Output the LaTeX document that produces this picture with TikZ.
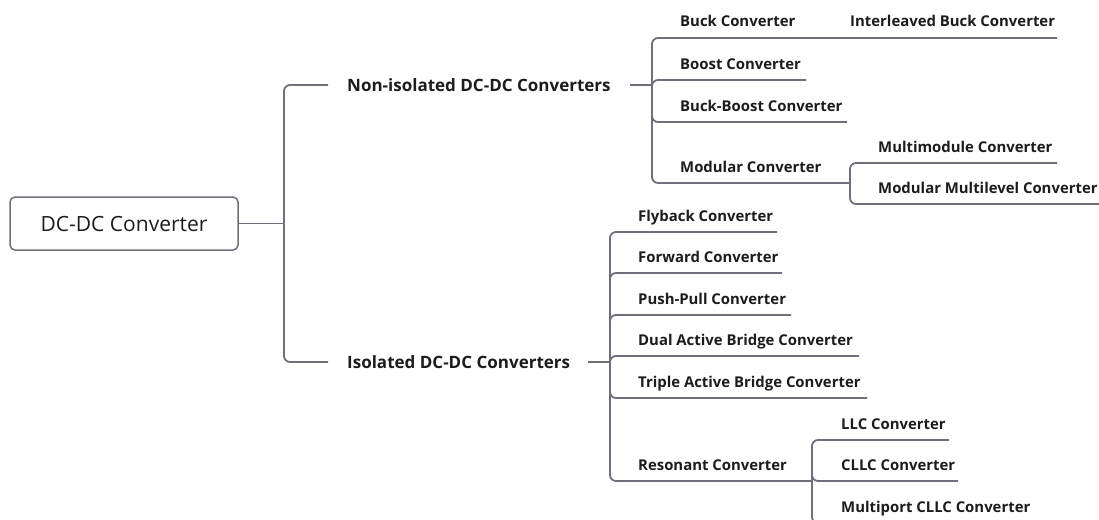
\documentclass[tikz,border=0pt]{standalone}
\usepackage{fontspec}
\setmainfont{Open Sans}
\usetikzlibrary{positioning}
\definecolor{linegray}{RGB}{112,112,122}
\definecolor{txtdark}{RGB}{28,28,28}
\tikzset{rootbox/.style={draw=linegray,line width=1.5pt,rounded corners=5pt,minimum width=228pt,minimum height=53pt,font=\fontsize{21}{25}\selectfont,text=txtdark}}
\tikzset{topic/.style={anchor=base west,inner sep=0pt,font=\bfseries\fontsize{17}{20}\selectfont,text=txtdark}}
\tikzset{subtopic/.style={anchor=base west,inner sep=0pt,font=\bfseries\fontsize{14.9}{17}\selectfont,text=txtdark}}
\tikzset{link/.style={draw=linegray,line width=1.8pt,rounded corners=6pt}}

\begin{document}
\begin{tikzpicture}[x=1pt,y=-1pt]
    \useasboundingbox (0,0) rectangle (1099,519);
    \clip (0,0) rectangle (1099,519);

    \node[rootbox] (dcdc) at (124,223.5) {DC-DC Converter};
    \node[topic] (noniso) at (347,91) {Non-isolated DC-DC Converters};
    \node[topic] (iso) at (347,368) {Isolated DC-DC Converters};

    \node[subtopic] (buck) at (680,27) {Buck Converter};
    \node[subtopic] (ilbuck) at (850,27) {Interleaved Buck Converter};
    \node[subtopic] (boost) at (680,69) {Boost Converter};
    \node[subtopic] (buckboost) at (680,111) {Buck-Boost Converter};
    \node[subtopic] (modular) at (680,172) {Modular Converter};
    \node[subtopic] (multimod) at (878,152) {Multimodule Converter};
    \node[subtopic] (mmc) at (878,193) {Modular Multilevel Converter};

    \node[subtopic] (flyback) at (638,221) {Flyback Converter};
    \node[subtopic] (forward) at (638,262) {Forward Converter};
    \node[subtopic] (pushpull) at (638,304) {Push-Pull Converter};
    \node[subtopic] (dab) at (638,345) {Dual Active Bridge Converter};
    \node[subtopic] (tab) at (638,387) {Triple Active Bridge Converter};
    \node[subtopic] (resonant) at (638,470) {Resonant Converter};
    \node[subtopic] (llc) at (841,429) {LLC Converter};
    \node[subtopic] (cllc) at (841,470) {CLLC Converter};
    \node[subtopic] (mpcllc) at (841,512) {Multiport CLLC Converter};

    \coordinate (rootfork) at (284,223.5);
    \coordinate (noniso-in) at (328,85);
    \coordinate (iso-in) at (328,362);
    \coordinate (noniso-out) at (630,85);
    \coordinate (nonisofork) at (652,85);
    \coordinate (iso-out) at (588,362);
    \coordinate (isofork) at (610,362);

    \coordinate (buck-e) at (830,38);
    \coordinate (ilbuck-e) at (1057,38);
    \coordinate (boost-e) at (806,80);
    \coordinate (buckboost-e) at (847,122);
    \coordinate (modfork) at (850,183);
    \coordinate (multimod-e) at (1057,163);
    \coordinate (mmc-e) at (1110,204);

    \coordinate (flyback-e) at (777,232);
    \coordinate (forward-e) at (782,273);
    \coordinate (pushpull-e) at (791,315);
    \coordinate (dab-e) at (859,356);
    \coordinate (tab-e) at (867,398);
    \coordinate (resfork) at (812,481);
    \coordinate (llc-e) at (949,440);
    \coordinate (cllc-e) at (958,481);
    \coordinate (mpcllc-e) at (1040,523);

    \draw[link] (dcdc.east) -- (rootfork);
    \draw[link] (rootfork) |- (noniso-in);
    \draw[link] (rootfork) |- (iso-in);

    \draw[link] (noniso-out) -- (nonisofork);
    \draw[link] (nonisofork) |- (buck-e) -- (ilbuck-e);
    \draw[link] (nonisofork) |- (boost-e);
    \draw[link] (nonisofork) |- (buckboost-e);
    \draw[link] (nonisofork) |- (modfork);
    \draw[link] (modfork) |- (multimod-e);
    \draw[link] (modfork) |- (mmc-e);

    \draw[link] (iso-out) -- (isofork);
    \draw[link] (isofork) |- (flyback-e);
    \draw[link] (isofork) |- (forward-e);
    \draw[link] (isofork) |- (pushpull-e);
    \draw[link] (isofork) |- (dab-e);
    \draw[link] (isofork) |- (tab-e);
    \draw[link] (isofork) |- (resfork);
    \draw[link] (resfork) |- (llc-e);
    \draw[link] (resfork) |- (cllc-e);
    \draw[link] (resfork) |- (mpcllc-e);
\end{tikzpicture}
\end{document}
